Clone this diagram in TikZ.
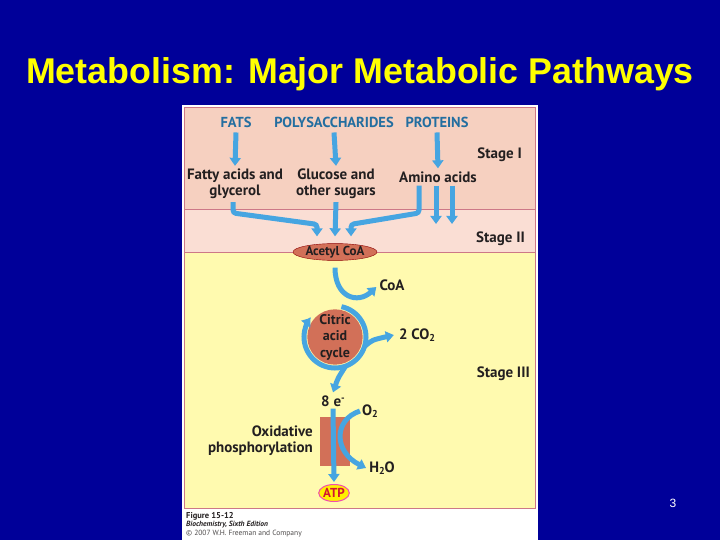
\documentclass[tikz,border=0pt]{standalone}
\usepackage{fontspec}
\usetikzlibrary{arrows.meta,calc,shapes.geometric}
\newfontfamily\titlefont{Liberation Sans}
\newfontfamily\figfont{PT Sans}

\definecolor{slidebg}{RGB}{0,0,153}
\definecolor{titleyel}{RGB}{255,255,0}
\definecolor{stageone}{RGB}{246,208,192}
\definecolor{stagetwo}{RGB}{250,222,212}
\definecolor{stagethree}{RGB}{255,250,175}
\definecolor{edgepink}{RGB}{205,120,135}
\definecolor{headblue}{RGB}{35,110,160}
\definecolor{labeltxt}{RGB}{35,31,32}
\definecolor{flowblue}{RGB}{70,165,225}
\definecolor{cyclered}{RGB}{210,112,88}
\definecolor{atpyel}{RGB}{255,240,0}
\definecolor{atpred}{RGB}{210,20,50}

\newcommand{\sbs}[1]{\raisebox{-2.5pt}{\fontsize{10}{10}\selectfont #1}}

\begin{document}
\begin{tikzpicture}
[x=1pt,y=-1pt,>={Triangle[length=8pt,width=11pt]},
head/.style={inner sep=0pt,text=headblue,font=\figfont\bfseries\fontsize{14.5}{15}\selectfont},
lbl/.style={inner sep=0pt,text=labeltxt,align=center,font=\figfont\bfseries\fontsize{15}{16}\selectfont},
stagelbl/.style={inner sep=0pt,anchor=east,text=labeltxt,font=\figfont\bfseries\fontsize{15}{16}\selectfont},
flow/.style={->,draw=flowblue,line width=5pt},
]

%Slide and panel
\fill[slidebg] (0,0) rectangle (720,540);
\useasboundingbox (0,0) rectangle (720,540);
\fill[white] (182,105) rectangle (538,540);
\fill[stageone] (184,107) rectangle (535,209);
\fill[stagetwo] (184,209) rectangle (535,252);
\fill[stagethree] (184,252) rectangle (535,508);
\draw[edgepink,line width=0.8pt] (184,107) rectangle (535,508);
\draw[edgepink,line width=0.8pt] (184,209) -- (535,209) (184,252) -- (535,252);

%Title and page number
\node (title) at (360,74) [inner sep=0pt,text=titleyel,font=\titlefont\bfseries\fontsize{35.8}{38}\selectfont] {Metabolism: Major Metabolic Pathways};
\node (page) at (673,503) [inner sep=0pt,text=white,font=\titlefont\fontsize{12}{12}\selectfont] {3};

%Stage I
\node (fats) at (236,122) [head] {FATS};
\node (poly) at (334,122) [head] {POLYSACCHARIDES};
\node (prot) at (437,122) [head] {PROTEINS};
\node (fatty) at (235,184) [lbl] {Fatty acids and\\glycerol};
\node (gluc) at (336,184) [lbl] {Glucose and\\other sugars};
\node (amino) at (438,177) [lbl] {Amino acids};
\node (st1) at (522,155) [stagelbl] {Stage I};

\draw[flow] (fats.south) ++(0,5) -- ([yshift=3pt]fatty.north);
\draw[flow] (poly.south) ++(0,5) -- ([yshift=3pt]gluc.north);
\draw[flow] (prot.south) ++(0,5) -- ([yshift=3pt]amino.north);

%Stage II
\node (acetyl) at (335,252) [ellipse,draw=red!55!black,fill=cyclered,minimum width=84pt,minimum height=15pt,inner sep=0pt,text=labeltxt,font=\figfont\bfseries\fontsize{13}{13}\selectfont] {Acetyl CoA};
\node (st2) at (525,239) [stagelbl] {Stage II};

\coordinate (aa1) at (436,224);
\coordinate (aa2) at (452,224);
\draw[flow,rounded corners=3pt] ([xshift=-2pt,yshift=-3pt]fatty.south) -- (233,213) -- ($(acetyl.north)+(-18,-19)$) -- ([xshift=-18pt,yshift=7pt]acetyl.north);
\draw[flow] ([yshift=-3pt]gluc.south) -- ([yshift=7pt]acetyl.north);
\draw[flow,rounded corners=3pt] ([xshift=-19pt,yshift=-3pt]amino.south) -- (419,213) -- ($(acetyl.north)+(16,-19)$) -- ([xshift=16pt,yshift=7pt]acetyl.north);
\draw[flow] ([xshift=-2pt,yshift=-3pt]amino.south) -- (aa1);
\draw[flow] ([xshift=14pt,yshift=-3pt]amino.south) -- (aa2);

%Stage III
\node (cycle) at (335,337) [circle,fill=cyclered,minimum size=52pt,inner sep=0pt,text=labeltxt,align=center,font=\figfont\bfseries\fontsize{14}{16.5}\selectfont] {Citric\\acid\\cycle};
\node (coa) at (392,285) [lbl] {CoA};
\node (cotwo) at (417,335) [lbl] {2 CO\sbs{2}};
\node (eight) at (333,401) [lbl] {8 e\raisebox{5pt}{\fontsize{10}{10}\selectfont -}};
\node (o2) at (370,411) [lbl] {O\sbs{2}};
\node (h2o) at (382,468) [lbl] {H\sbs{2}O};
\node (oxph) at (313,441) [lbl,align=right,anchor=east] {Oxidative\\phosphorylation};
\node (atp) at (334,493) [ellipse,draw=magenta!70,line width=1pt,fill=atpyel,minimum width=28pt,minimum height=17pt,inner sep=0pt,text=atpred,font=\figfont\bfseries\fontsize{13}{13}\selectfont] {ATP};
\node (st3) at (530,374) [stagelbl] {Stage III};

\draw[flow] ([yshift=-7pt]acetyl.south) .. controls (335,298) and (358,304) .. ([xshift=-3pt,yshift=-2pt]coa.west);
\draw[flow] ($(cycle.center)+(-78:31)$) arc[start angle=-78,end angle=218,radius=31];
\draw[flow] ($(cycle.center)+(18:31)$) .. controls (372,340) .. ([xshift=-5pt]cotwo.west);
\draw[flow] ($(cycle.center)+(70:31)$) .. controls (338,378) .. ([yshift=3pt]eight.north);

\fill[cyclered] (320,417) rectangle (350,466);
\draw[flow] ([yshift=-2pt]eight.south) -- ([yshift=2pt]atp.north);
\draw[flow] ([xshift=-2pt]o2.west) .. controls (333,420) and (334,452) .. ([xshift=-3pt]h2o.west);

%Caption
\node (cap1) at (186,516) [anchor=west,inner sep=0pt,text=labeltxt,font=\figfont\bfseries\fontsize{8.5}{9}\selectfont] {Figure 15-12};
\node (cap2) at (186,525) [anchor=west,inner sep=0pt,text=labeltxt,font=\figfont\bfseries\itshape\fontsize{7.5}{8}\selectfont] {Biochemistry, Sixth Edition};
\node (cap3) at (186,534) [anchor=west,inner sep=0pt,text=labeltxt!80,font=\figfont\fontsize{7.5}{8}\selectfont] {\textcopyright{} 2007 W.H. Freeman and Company};

\end{tikzpicture}
\end{document}
